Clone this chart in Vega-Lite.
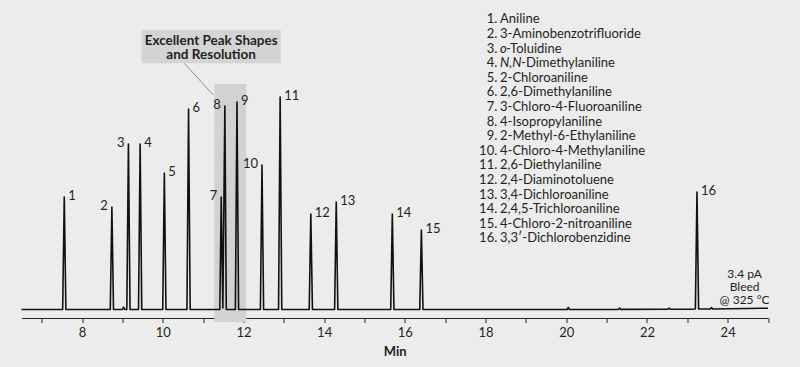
{
  "$schema": "https://vega.github.io/schema/vega-lite/v6.json",
  "width": 746.5,
  "height": 310,
  "autosize": {"type": "none"},
  "padding": {"left": 21.5, "top": 0, "right": 32, "bottom": 57},
  "background": "#ececec",
  "config": {
    "view": {"stroke": null},
    "font": "Lato",
    "axisX": {
      "offset": 8,
      "zindex": 1,
      "grid": false,
      "domainColor": "#222222",
      "domainWidth": 1.2,
      "tickColor": "#222222",
      "tickSize": 4.5,
      "tickWidth": 1,
      "labelFont": "Lato",
      "labelFontSize": 13,
      "labelColor": "#231f20",
      "labelPadding": 4,
      "labelOverlap": false,
      "labelFlush": false,
      "titleFont": "Lato",
      "titleFontWeight": "bold",
      "titleFontSize": 13,
      "titleColor": "#231f20",
      "titlePadding": 6
    }
  },
  "datasets": {
    "trace": [
      {"t": 6.5, "y": 0.5},
      {"t": 7.52, "y": 0.5}, {"t": 7.56, "y": 113}, {"t": 7.6, "y": 0.5},
      {"t": 8.7, "y": 0.5}, {"t": 8.74, "y": 103}, {"t": 8.78, "y": 0.5},
      {"t": 9.0, "y": 0.5}, {"t": 9.03, "y": 3}, {"t": 9.06, "y": 0.5},
      {"t": 9.11, "y": 0.5}, {"t": 9.15, "y": 166}, {"t": 9.19, "y": 0.5},
      {"t": 9.4, "y": 0.5}, {"t": 9.44, "y": 166}, {"t": 9.48, "y": 0.5},
      {"t": 10.0, "y": 0.5}, {"t": 10.04, "y": 137}, {"t": 10.08, "y": 0.5},
      {"t": 10.6, "y": 0.5}, {"t": 10.64, "y": 201}, {"t": 10.68, "y": 0.5},
      {"t": 11.415, "y": 0.5}, {"t": 11.45, "y": 113}, {"t": 11.49, "y": 2}, {"t": 11.54, "y": 204}, {"t": 11.575, "y": 0.5},
      {"t": 11.8, "y": 0.5}, {"t": 11.84, "y": 208}, {"t": 11.88, "y": 0.5},
      {"t": 12.42, "y": 0.5}, {"t": 12.46, "y": 145}, {"t": 12.5, "y": 0.5},
      {"t": 12.87, "y": 0.5}, {"t": 12.91, "y": 213}, {"t": 12.95, "y": 0.5},
      {"t": 13.63, "y": 0.5}, {"t": 13.67, "y": 96}, {"t": 13.71, "y": 0.5},
      {"t": 14.26, "y": 0.5}, {"t": 14.3, "y": 108}, {"t": 14.34, "y": 0.5},
      {"t": 15.65, "y": 0.5}, {"t": 15.69, "y": 96}, {"t": 15.73, "y": 0.5},
      {"t": 16.37, "y": 0.5}, {"t": 16.41, "y": 80}, {"t": 16.45, "y": 0.5},
      {"t": 20.02, "y": 0.5}, {"t": 20.05, "y": 2.5}, {"t": 20.08, "y": 0.5},
      {"t": 21.29, "y": 0.6}, {"t": 21.32, "y": 2}, {"t": 21.35, "y": 0.6},
      {"t": 22.52, "y": 0.7}, {"t": 22.55, "y": 2}, {"t": 22.58, "y": 0.7},
      {"t": 23.05, "y": 0.8},
      {"t": 23.2, "y": 1}, {"t": 23.24, "y": 118}, {"t": 23.28, "y": 1},
      {"t": 23.57, "y": 1}, {"t": 23.6, "y": 2.5}, {"t": 23.63, "y": 1},
      {"t": 25.0, "y": 1.8}
    ],
    "peaks": [
      {"n": 1, "t": 7.56, "h": 113},
      {"n": 2, "t": 8.74, "h": 103},
      {"n": 3, "t": 9.15, "h": 166},
      {"n": 4, "t": 9.44, "h": 166},
      {"n": 5, "t": 10.04, "h": 137},
      {"n": 6, "t": 10.64, "h": 201},
      {"n": 7, "t": 11.45, "h": 113},
      {"n": 8, "t": 11.54, "h": 204},
      {"n": 9, "t": 11.84, "h": 208},
      {"n": 10, "t": 12.46, "h": 145},
      {"n": 11, "t": 12.91, "h": 213},
      {"n": 12, "t": 13.67, "h": 96},
      {"n": 13, "t": 14.3, "h": 108},
      {"n": 14, "t": 15.69, "h": 96},
      {"n": 15, "t": 16.41, "h": 80},
      {"n": 16, "t": 23.24, "h": 118}
    ],
    "compounds": [
      {"n": 1, "num": "1.", "pre": "", "name": "Aniline"},
      {"n": 2, "num": "2.", "pre": "", "name": "3-Aminobenzotrifluoride"},
      {"n": 3, "num": "3.", "pre": "o", "name": "-Toluidine"},
      {"n": 4, "num": "4.", "pre": "N,N", "name": "-Dimethylaniline"},
      {"n": 5, "num": "5.", "pre": "", "name": "2-Chloroaniline"},
      {"n": 6, "num": "6.", "pre": "", "name": "2,6-Dimethylaniline"},
      {"n": 7, "num": "7.", "pre": "", "name": "3-Chloro-4-Fluoroaniline"},
      {"n": 8, "num": "8.", "pre": "", "name": "4-Isopropylaniline"},
      {"n": 9, "num": "9.", "pre": "", "name": "2-Methyl-6-Ethylaniline"},
      {"n": 10, "num": "10.", "pre": "", "name": "4-Chloro-4-Methylaniline"},
      {"n": 11, "num": "11.", "pre": "", "name": "2,6-Diethylaniline"},
      {"n": 12, "num": "12.", "pre": "", "name": "2,4-Diaminotoluene"},
      {"n": 13, "num": "13.", "pre": "", "name": "3,4-Dichloroaniline"},
      {"n": 14, "num": "14.", "pre": "", "name": "2,4,5-Trichloroaniline"},
      {"n": 15, "num": "15.", "pre": "", "name": "4-Chloro-2-nitroaniline"},
      {"n": 16, "num": "16.", "pre": "", "name": "3,3\u2032-Dichlorobenzidine"}
    ],
    "notes": [
      {"label": "Excellent Peak Shapes\nand Resolution"}
    ],
    "bleed": [
      {"label": "3.4 pA\nBleed\n@ 325 \u00b0C"}
    ]
  },
  "layer": [
    {
      "data": {"values": [{}]},
      "mark": {"type": "rect", "color": "#d2d2d2"},
      "encoding": {
        "x": {"datum": 11.28, "type": "quantitative"},
        "x2": {"datum": 12.07},
        "y": {"datum": -12, "type": "quantitative", "axis": null, "scale": {"domain": [0, 310], "nice": false, "zero": false}},
        "y2": {"datum": 226}
      }
    },
    {
      "data": {"values": [{}]},
      "mark": {"type": "rect", "color": "#d4d4d4"},
      "encoding": {
        "x": {"datum": 9.475, "type": "quantitative"},
        "x2": {"datum": 12.925},
        "y": {"datum": 246.7, "type": "quantitative", "axis": null, "scale": {"domain": [0, 310], "nice": false, "zero": false}},
        "y2": {"datum": 280}
      }
    },
    {
      "data": {"values": [{}]},
      "mark": {"type": "rule", "color": "#8a8a8a", "strokeWidth": 1},
      "encoding": {
        "x": {"datum": 10.537, "type": "quantitative"},
        "x2": {"datum": 11.253},
        "y": {"datum": 246.7, "type": "quantitative", "axis": null, "scale": {"domain": [0, 310], "nice": false, "zero": false}},
        "y2": {"datum": 215}
      }
    },
    {
      "data": {"name": "notes"},
      "mark": {"type": "text", "font": "Lato", "fontWeight": "bold", "fontSize": 13.5, "color": "#231f20", "lineBreak": "\n", "lineHeight": 14.5, "align": "center", "baseline": "middle"},
      "encoding": {
        "x": {"datum": 11.2, "type": "quantitative"},
        "y": {"datum": 269.3, "type": "quantitative", "axis": null, "scale": {"domain": [0, 310], "nice": false, "zero": false}},
        "text": {"field": "label"}
      }
    },
    {
      "data": {"name": "trace"},
      "mark": {"type": "line", "color": "#111111", "strokeWidth": 1.6, "strokeJoin": "round"},
      "encoding": {
        "x": {
          "field": "t", "type": "quantitative",
          "scale": {"domain": [6.5, 25], "nice": false, "zero": false},
          "axis": {
            "values": [7, 8, 9, 10, 11, 12, 13, 14, 15, 16, 17, 18, 19, 20, 21, 22, 23, 24, 25],
            "labelExpr": "datum.value % 2 == 0 ? datum.label : ''",
            "title": "Min"
          }
        },
        "y": {
          "field": "y", "type": "quantitative",
          "scale": {"domain": [0, 310], "nice": false, "zero": false},
          "axis": null
        }
      }
    },
    {
      "data": {"name": "peaks"},
      "transform": [{"filter": "indexof([2, 3, 7, 8, 10], datum.n) >= 0"}],
      "mark": {"type": "text", "font": "Lato", "fontSize": 13, "color": "#231f20", "align": "right", "baseline": "middle", "dx": -4, "dy": -1},
      "encoding": {
        "x": {"field": "t", "type": "quantitative"},
        "y": {"field": "h", "type": "quantitative", "axis": null, "scale": {"domain": [0, 310], "nice": false, "zero": false}},
        "text": {"field": "n"}
      }
    },
    {
      "data": {"name": "peaks"},
      "transform": [{"filter": "indexof([2, 3, 7, 8, 10], datum.n) < 0"}],
      "mark": {"type": "text", "font": "Lato", "fontSize": 13, "color": "#231f20", "align": "left", "baseline": "middle", "dx": 4, "dy": -1},
      "encoding": {
        "x": {"field": "t", "type": "quantitative"},
        "y": {"field": "h", "type": "quantitative", "axis": null, "scale": {"domain": [0, 310], "nice": false, "zero": false}},
        "text": {"field": "n"}
      }
    },
    {
      "data": {"name": "bleed"},
      "mark": {"type": "text", "font": "Lato", "fontSize": 12, "color": "#231f20", "lineBreak": "\n", "lineHeight": 13, "align": "center", "baseline": "middle"},
      "encoding": {
        "x": {"datum": 24.42, "type": "quantitative"},
        "y": {"datum": 36.5, "type": "quantitative", "axis": null, "scale": {"domain": [0, 310], "nice": false, "zero": false}},
        "text": {"field": "label"}
      }
    },
    {
      "data": {"name": "compounds"},
      "mark": {"type": "text", "font": "Lato", "fontSize": 13, "color": "#231f20", "align": "right", "baseline": "middle"},
      "encoding": {
        "x": {"datum": 18.29, "type": "quantitative"},
        "y": {"field": "n", "type": "quantitative", "axis": null, "scale": {"domain": [-0.322, 20.911], "reverse": true, "nice": false, "zero": false}},
        "text": {"field": "num"}
      }
    },
    {
      "data": {"name": "compounds"},
      "transform": [{"filter": "datum.pre != ''"}],
      "mark": {"type": "text", "font": "Lato", "fontSize": 13, "fontStyle": "italic", "color": "#231f20", "align": "left", "baseline": "middle"},
      "encoding": {
        "x": {"datum": 18.36, "type": "quantitative"},
        "y": {"field": "n", "type": "quantitative", "axis": null, "scale": {"domain": [-0.322, 20.911], "reverse": true, "nice": false, "zero": false}},
        "text": {"field": "pre"}
      }
    },
    {
      "data": {"name": "compounds"},
      "transform": [{"filter": "datum.pre == ''"}],
      "mark": {"type": "text", "font": "Lato", "fontSize": 13, "color": "#231f20", "align": "left", "baseline": "middle"},
      "encoding": {
        "x": {"datum": 18.36, "type": "quantitative"},
        "y": {"field": "n", "type": "quantitative", "axis": null, "scale": {"domain": [-0.322, 20.911], "reverse": true, "nice": false, "zero": false}},
        "text": {"field": "name"}
      }
    },
    {
      "data": {"name": "compounds"},
      "transform": [{"filter": "datum.pre == 'o'"}],
      "mark": {"type": "text", "font": "Lato", "fontSize": 13, "color": "#231f20", "align": "left", "baseline": "middle", "dx": 6},
      "encoding": {
        "x": {"datum": 18.36, "type": "quantitative"},
        "y": {"field": "n", "type": "quantitative", "axis": null, "scale": {"domain": [-0.322, 20.911], "reverse": true, "nice": false, "zero": false}},
        "text": {"field": "name"}
      }
    },
    {
      "data": {"name": "compounds"},
      "transform": [{"filter": "datum.pre == 'N,N'"}],
      "mark": {"type": "text", "font": "Lato", "fontSize": 13, "color": "#231f20", "align": "left", "baseline": "middle", "dx": 21},
      "encoding": {
        "x": {"datum": 18.36, "type": "quantitative"},
        "y": {"field": "n", "type": "quantitative", "axis": null, "scale": {"domain": [-0.322, 20.911], "reverse": true, "nice": false, "zero": false}},
        "text": {"field": "name"}
      }
    }
  ],
  "resolve": {"scale": {"y": "independent"}}
}
